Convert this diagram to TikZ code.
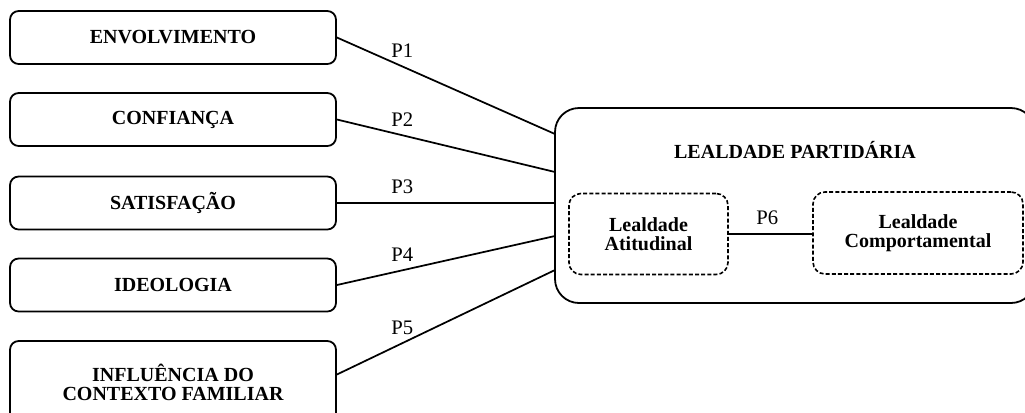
\documentclass[tikz,border=0pt]{standalone}
\usepackage{fontspec}
\setmainfont{Liberation Serif}
\usetikzlibrary{positioning}

\begin{document}
\begin{tikzpicture}[x=0.75pt, y=-0.75pt,
  factor/.style={draw, line width=1.35pt, rounded corners=6.5pt, minimum width=244.5pt, minimum height=39.75pt, align=center, font=\fontsize{15}{14}\selectfont\bfseries},
  bigbox/.style={draw, line width=1.35pt, rounded corners=18pt, minimum width=360pt, minimum height=146.25pt},
  dimbox/.style={draw, line width=1.2pt, dash pattern=on 3pt off 1.6pt, rounded corners=9pt, align=center, font=\fontsize{15}{13.8}\selectfont\bfseries},
  link/.style={line width=1.3pt},
  plabel/.style={pos=0.3, above=6pt, inner sep=0pt, font=\fontsize{15.5}{15}\selectfont}]
  \useasboundingbox (0,0) rectangle (1025,412);
  \clip (0,0) rectangle (1025,412);

  % antecedentes
  \node[factor] (b1) at (173,37.5) {ENVOLVIMENTO};
  \node[factor] (b2) at (173,119.5) {CONFIANÇA};
  \node[factor] (b3) at (173,203) {SATISFAÇÃO};
  \node[factor] (b4) at (173,285) {IDEOLOGIA};
  \node[factor, minimum height=62.25pt] (b5) at (173,382.5) {INFLUÊNCIA DO\\CONTEXTO FAMILIAR};

  % lealdade partidaria
  \node[bigbox] (lp) at (795,205.5) {};
  \node[font=\fontsize{15}{14}\selectfont\bfseries] (lptitle) at (795,150) {LEALDADE PARTIDÁRIA};
  \node[dimbox, minimum width=119.25pt, minimum height=60.75pt] (att) at (648.5,234) {Lealdade\\Atitudinal};
  \node[dimbox, minimum width=157.5pt, minimum height=61.5pt] (comp) at (918,233) {Lealdade\\Comportamental};

  \foreach \i/\yy in {1/134, 2/172, 3/203, 4/236, 5/270}
    \coordinate (in\i) at (555,\yy);

  \draw[link] (b1.east) -- (in1) node[plabel] {P1};
  \draw[link] (b2.east) -- (in2) node[plabel] {P2};
  \draw[link] (b3.east) -- (in3) node[plabel] {P3};
  \draw[link] (b4.east) -- (in4) node[plabel] {P4};
  \draw[link] ([yshift=6pt]b5.east) -- (in5) node[plabel] {P5};
  \draw[link] (att.east) -- (att.east -| comp.west) node[plabel, pos=0.46] {P6};
\end{tikzpicture}
\end{document}
